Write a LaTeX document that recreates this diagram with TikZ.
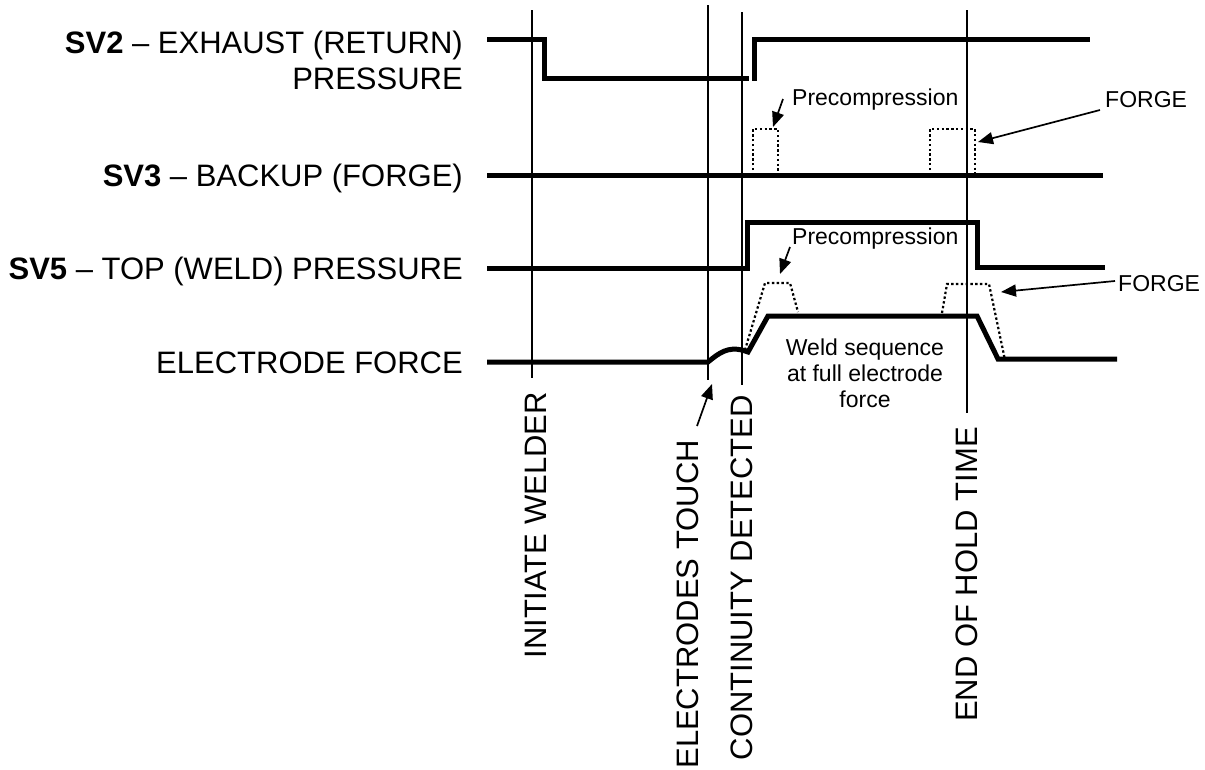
\documentclass[tikz,border=0pt]{standalone}
\usepackage{fontspec}
\setmainfont{Liberation Sans}
\usetikzlibrary{arrows.meta}
\begin{document}
\begin{tikzpicture}[x=1pt,y=-1pt,
  sig/.style={line width=5pt},
  dotsig/.style={line width=2.2pt, dash pattern=on 2.4pt off 2.4pt},
  vline/.style={line width=1.5pt},
  lbl/.style={font=\fontsize{31}{36}\selectfont, inner sep=0pt},
  vlbl/.style={lbl, rotate=90, anchor=east},
  small/.style={font=\fontsize{23}{26}\selectfont, inner sep=0pt},
  pointer/.style={line width=1.7pt, -{Triangle[length=15pt,width=12pt]}}]
\useasboundingbox (0,0) rectangle (1205,769);
% left labels
\node[lbl, anchor=base east] (sv2a) at (463,53) {\textbf{SV2} – EXHAUST (RETURN)};
\node[lbl, anchor=base east] (sv2b) at (463,89) {PRESSURE};
\node[lbl, anchor=base east] (sv3) at (463,186) {\textbf{SV3} – BACKUP (FORGE)};
\node[lbl, anchor=base east] (sv5) at (463,279) {\textbf{SV5} – TOP (WELD) PRESSURE};
\node[lbl, anchor=base east] (ef) at (463,373) {ELECTRODE FORCE};
% event lines
\draw[vline] (532,10) -- (532,378);
\draw[vline] (708,5) -- (708,380);
\draw[vline] (742,12) -- (742,385);
\draw[vline] (967,10) -- (967,413);
% signals
\draw[sig] (487,39) -- (544,39) -- (544,78) -- (749,78);
\draw[sig] (754,80.5) -- (754,39) -- (1090,39);
\draw[sig] (487,175) -- (1103,175);
\draw[sig] (487,268) -- (747,268) -- (747,222) -- (977,222) -- (977,267) -- (1105,267);
\draw[sig] (487,362) -- (708,362) .. controls (720,352) and (728,347) .. (742,350) -- (748,352) -- (768,316) -- (977,316) -- (998,359) -- (1117,359);
% dotted pulses
\draw[dotsig] (753,175) -- (753,129) -- (778,129) -- (778,175);
\draw[dotsig] (930,175) -- (930,129) -- (975,129) -- (975,175);
\draw[dotsig] (745,350) -- (765,283) -- (790,283) -- (798,312);
\draw[dotsig] (942,313) -- (947,284) -- (989,284) -- (1005,360);
% annotations
\node[small, anchor=base west] (pc1) at (792,105) {Precompression};
\node[small, anchor=base west] (fg1) at (1105,107) {FORGE};
\node[small, anchor=base west] (pc2) at (792,244) {Precompression};
\node[small, anchor=base west] (fg2) at (1118,291) {FORGE};
\node[small, anchor=base] (weld1) at (865,355) {Weld sequence};
\node[small, anchor=base] (weld2) at (865,381) {at full electrode};
\node[small, anchor=base] (weld3) at (865,407) {force};
\coordinate (pc1s) at (783,99);   \coordinate (pc1t) at (773,127);
\coordinate (fg1s) at (1100,110); \coordinate (fg1t) at (978,142);
\coordinate (pc2s) at (790,247);  \coordinate (pc2t) at (780,274);
\coordinate (fg2s) at (1115,281); \coordinate (fg2t) at (1001,292);
\coordinate (ets) at (697,426);   \coordinate (ett) at (712,384);
\draw[pointer] (pc1s) -- (pc1t);
\draw[pointer] (fg1s) -- (fg1t);
\draw[pointer] (pc2s) -- (pc2t);
\draw[pointer] (fg2s) -- (fg2t);
\draw[pointer] (ets) -- (ett);
% vertical labels
\node[vlbl] (iw) at (536,392) {INITIATE WELDER};
\node[vlbl] (et) at (688,440) {ELECTRODES TOUCH};
\node[vlbl] (cd) at (742,395) {CONTINUITY DETECTED};
\node[vlbl] (eh) at (967,427) {END OF HOLD TIME};
\end{tikzpicture}
\end{document}
